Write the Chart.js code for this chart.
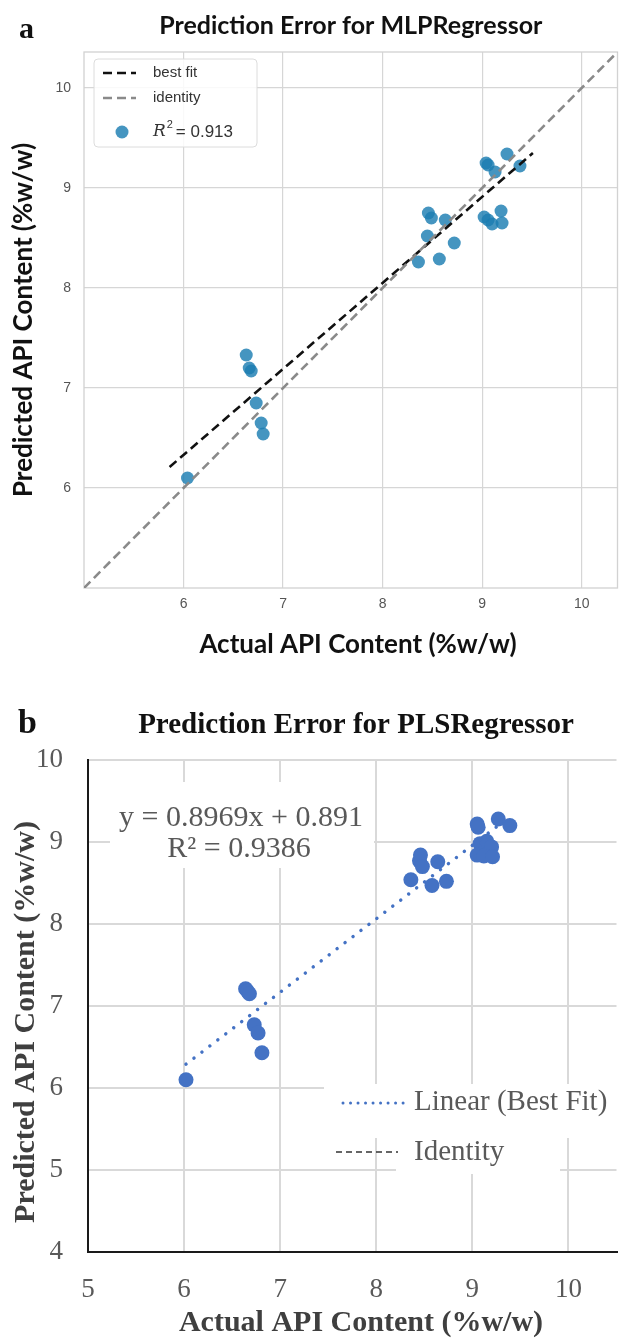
<!DOCTYPE html>
<html><head><meta charset="utf-8">
<script src="https://cdn.jsdelivr.net/npm/chart.js@4.4.1/dist/chart.umd.min.js"></script>
<style>
html,body{margin:0;padding:0;background:#fff;width:624px;height:1341px;overflow:hidden}
canvas{position:absolute;left:0}
#ca{top:0}
#cb{top:680px}
</style></head><body>
<canvas id="ca" width="624" height="680"></canvas>
<canvas id="cb" width="624" height="661"></canvas>
<script>
// ---------- Panel a: MLPRegressor ----------
const actualA    = [6.04, 6.63, 6.66, 6.68, 6.73, 6.78, 6.80, 8.36, 8.45, 8.46, 8.49, 8.57, 8.63, 8.72, 9.02, 9.04, 9.06, 9.06, 9.10, 9.13, 9.19, 9.20, 9.25, 9.38];
const predictedA = [6.10, 7.33, 7.20, 7.17, 6.85, 6.65, 6.54, 8.26, 8.52, 8.75, 8.70, 8.29, 8.68, 8.45, 8.71, 9.25, 9.23, 8.68, 8.64, 9.16, 8.77, 8.65, 9.34, 9.22];
const fitAX = [5.86, 9.51];
const fitAY = [6.21, 9.35];
const identityA = [5.0, 10.36];
const ticksA = [6, 7, 8, 9, 10];
const r2A = '0.913';

// ---------- Panel b: PLSRegressor ----------
const actualB    = [6.02, 6.64, 6.66, 6.68, 6.73, 6.77, 6.81, 8.36, 8.45, 8.46, 8.48, 8.58, 8.64, 8.73, 9.05, 9.06, 9.27, 9.39, 9.08, 9.15, 9.20, 9.05, 9.12, 9.21];
const predictedB = [6.10, 7.21, 7.18, 7.15, 6.77, 6.67, 6.43, 8.54, 8.77, 8.84, 8.70, 8.47, 8.76, 8.52, 9.22, 9.18, 9.28, 9.20, 8.98, 9.01, 8.94, 8.84, 8.83, 8.82];
const fitBX = [6.02, 9.38];
const fitBY = [6.29, 9.30];
const xTicksB = [5, 6, 7, 8, 9, 10];
const yTicksB = [4, 5, 6, 7, 8, 9, 10];
const eqB = 'y = 0.8969x + 0.891';
const r2B = 'R\u00B2 = 0.9386';

const toPts = (xs, ys) => xs.map((x, i) => ({x: x, y: ys[i]}));
const ptColA = 'rgba(28,126,178,0.82)';
const noPadX = s => { s.paddingLeft = 0; s.paddingRight = 0; };
const noPadY = s => { s.paddingTop = 0; s.paddingBottom = 0; };

// ---------- Chart A ----------
const plugA = {
  id: 'plugA',
  beforeDatasetsDraw(chart) {
    const {ctx, chartArea: a} = chart;
    ctx.save();
    ctx.strokeStyle = '#d2d2d2'; ctx.lineWidth = 1.3;
    ctx.strokeRect(a.left, a.top, a.right - a.left, a.bottom - a.top);
    ctx.restore();
  },
  afterDraw(chart) {
    const {ctx, chartArea: a} = chart;
    ctx.save();
    ctx.fillStyle = '#111';
    ctx.font = 'bold 30px "Liberation Serif"';
    ctx.textAlign = 'left'; ctx.textBaseline = 'alphabetic';
    ctx.fillText('a', 19, 38);
    ctx.font = 'bold 25px Lato';
    ctx.textAlign = 'center';
    ctx.fillText('Prediction Error for MLPRegressor', (a.left + a.right) / 2, 34);
    ctx.font = 'bold 26px Lato';
    ctx.fillText('Actual API Content (%w/w)', 358, 653);
    ctx.save();
    ctx.translate(32, (a.top + a.bottom) / 2);
    ctx.rotate(-Math.PI / 2);
    ctx.fillText('Predicted API Content (%w/w)', 0, 0);
    ctx.restore();
    // legend
    const bx = 94, by = 59, bw = 163, bh = 88;
    ctx.fillStyle = 'rgba(255,255,255,0.85)';
    ctx.strokeStyle = '#dcdcdc'; ctx.lineWidth = 1;
    ctx.beginPath();
    ctx.roundRect(bx, by, bw, bh, 4);
    ctx.fill(); ctx.stroke();
    ctx.lineWidth = 2.6;
    ctx.setLineDash([9, 5]);
    ctx.strokeStyle = '#111';
    ctx.beginPath(); ctx.moveTo(103, 73); ctx.lineTo(136, 73); ctx.stroke();
    ctx.strokeStyle = '#8a8a8a';
    ctx.beginPath(); ctx.moveTo(103, 98); ctx.lineTo(136, 98); ctx.stroke();
    ctx.setLineDash([]);
    ctx.fillStyle = ptColA;
    ctx.beginPath(); ctx.arc(122, 132, 6.5, 0, Math.PI * 2); ctx.fill();
    ctx.fillStyle = '#333';
    ctx.textAlign = 'left'; ctx.textBaseline = 'middle';
    ctx.font = '15px "Liberation Sans"';
    ctx.fillText('best fit', 153, 73);
    ctx.fillText('identity', 153, 98);
    ctx.font = 'italic 17px "DejaVu Serif"';
    ctx.fillText('R', 153, 132);
    const w = ctx.measureText('R').width;
    ctx.font = '11px "Liberation Sans"';
    ctx.fillText('2', 153 + w + 1, 125);
    ctx.font = '17px "Liberation Sans"';
    ctx.fillText('= ' + r2A, 153 + w + 10, 132);
    ctx.restore();
  }
};

new Chart(document.getElementById('ca'), {
  type: 'scatter',
  data: {datasets: [
    {label: 'identity', data: toPts(identityA, identityA), showLine: true, borderColor: '#8a8a8a', borderWidth: 2.6, borderDash: [9, 5], pointRadius: 0, order: 1},
    {label: 'best fit', data: toPts(fitAX, fitAY), showLine: true, borderColor: '#111', borderWidth: 2.6, borderDash: [9, 5], pointRadius: 0, order: 2},
    {label: 'R2', data: toPts(actualA, predictedA), backgroundColor: ptColA, borderWidth: 0, pointRadius: 6.5, order: 3}
  ]},
  options: {
    responsive: false, animation: false, devicePixelRatio: 1,
    layout: {padding: {left: 0, right: 4, top: 52, bottom: 0}},
    plugins: {legend: {display: false}, tooltip: {enabled: false}},
    scales: {
      x: {type: 'linear', min: 5, max: 10.36,
        afterBuildTicks: s => { s.ticks = ticksA.map(v => ({value: v})); },
        afterFit: s => { s.height = 92; noPadX(s); },
        grid: {color: '#d6d6d6', lineWidth: 1.2, drawTicks: false},
        border: {display: false},
        ticks: {color: '#555', font: {family: 'Liberation Sans', size: 14}, padding: 8}
      },
      y: {type: 'linear', min: 5, max: 10.36,
        afterBuildTicks: s => { s.ticks = ticksA.map(v => ({value: v})); },
        afterFit: s => { s.width = 84; noPadY(s); },
        grid: {color: '#d6d6d6', lineWidth: 1.2, drawTicks: false},
        border: {display: false},
        ticks: {color: '#555', font: {family: 'Liberation Sans', size: 14}, padding: 13}
      }
    }
  },
  plugins: [plugA]
});

// ---------- Chart B ----------
const serif = '"Liberation Serif"';
const plugB = {
  id: 'plugB',
  beforeDatasetsDraw(chart) {
    const ctx = chart.ctx;
    ctx.save();
    ctx.fillStyle = '#fff';
    ctx.fillRect(110, 102, 264, 86);
    ctx.fillRect(324, 404, 300, 54);
    ctx.fillRect(396, 458, 164, 36);
    ctx.restore();
  },
  afterDraw(chart) {
    const {ctx, chartArea: a} = chart;
    ctx.save();
    ctx.fillStyle = '#111';
    ctx.textAlign = 'left'; ctx.textBaseline = 'alphabetic';
    ctx.font = 'bold 34px ' + serif;
    ctx.fillText('b', 18, 53);
    ctx.textAlign = 'center';
    ctx.font = 'bold 29px ' + serif;
    ctx.fillText('Prediction Error for PLSRegressor', 356, 53);
    ctx.fillStyle = '#595959';
    ctx.font = '30px ' + serif;
    ctx.textBaseline = 'middle';
    ctx.fillText(eqB, 241, 138);
    ctx.fillText(r2B, 239, 169);
    ctx.textAlign = 'left';
    ctx.font = '29px ' + serif;
    ctx.fillText('Linear (Best Fit)', 414, 422);
    ctx.fillText('Identity', 414, 472);
    ctx.lineCap = 'round';
    ctx.strokeStyle = '#4472C4'; ctx.lineWidth = 3;
    ctx.setLineDash([0.01, 7.5]);
    ctx.beginPath(); ctx.moveTo(343, 423); ctx.lineTo(406, 423); ctx.stroke();
    ctx.lineCap = 'butt';
    ctx.strokeStyle = '#333'; ctx.lineWidth = 1.5;
    ctx.setLineDash([6, 4]);
    ctx.beginPath(); ctx.moveTo(336, 472); ctx.lineTo(398, 472); ctx.stroke();
    ctx.setLineDash([]);
    ctx.fillStyle = '#3f3f3f';
    ctx.font = 'bold 30px ' + serif;
    ctx.textAlign = 'center'; ctx.textBaseline = 'middle';
    ctx.fillText('Actual API Content (%w/w)', 361, 643);
    ctx.save();
    ctx.translate(26, 342);
    ctx.rotate(-Math.PI / 2);
    ctx.fillText('Predicted API Content (%w/w)', 0, 0);
    ctx.restore();
    ctx.restore();
  }
};

new Chart(document.getElementById('cb'), {
  type: 'scatter',
  data: {datasets: [
    {label: 'Linear (Best Fit)', data: toPts(fitBX, fitBY), showLine: true, borderColor: '#4472C4', borderWidth: 3.5, borderDash: [0.01, 10], borderCapStyle: 'round', pointRadius: 0, order: 1},
    {label: 'Data', data: toPts(actualB, predictedB), backgroundColor: '#4472C4', borderWidth: 0, pointRadius: 7.5, order: 2}
  ]},
  options: {
    responsive: false, animation: false, devicePixelRatio: 1,
    layout: {padding: {left: 0, right: 0, top: 80, bottom: 0}},
    plugins: {legend: {display: false}, tooltip: {enabled: false}},
    scales: {
      x: {type: 'linear', min: 5, max: 10.5,
        afterBuildTicks: s => { s.ticks = xTicksB.map(v => ({value: v})); },
        afterFit: s => { s.height = 89; noPadX(s); },
        grid: {color: '#d9d9d9', lineWidth: 2, drawTicks: false},
        border: {color: '#1a1a1a', width: 2},
        ticks: {color: '#595959', font: {family: 'Liberation Serif', size: 27}, padding: 22}
      },
      y: {type: 'linear', min: 4, max: 10,
        afterBuildTicks: s => { s.ticks = yTicksB.map(v => ({value: v})); },
        afterFit: s => { s.width = 88; noPadY(s); },
        grid: {color: '#d9d9d9', lineWidth: 2, drawTicks: false},
        border: {color: '#1a1a1a', width: 2},
        ticks: {color: '#595959', font: {family: 'Liberation Serif', size: 27}, padding: 25}
      }
    }
  },
  plugins: [plugB]
});
</script>
</body></html>
